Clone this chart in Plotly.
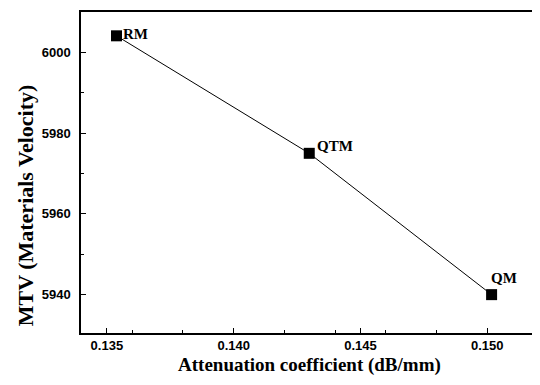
import plotly.graph_objects as go

samples = ["RM", "QTM", "QM"]
attenuation = [0.13538, 0.14298, 0.15017]
velocity = [6004.1, 5975.0, 5940.0]
x_ticks = [0.135, 0.140, 0.145, 0.150]
y_ticks = [5940, 5960, 5980, 6000]

fig = go.Figure()
fig.add_trace(go.Scatter(
    x=attenuation, y=velocity, mode="lines+markers",
    line=dict(color="black", width=1),
    marker=dict(symbol="square", size=11, color="black"),
    showlegend=False,
))

label_pos = {"RM": (19, 2), "QTM": (26, 7), "QM": (12, 17)}
for s, x, y in zip(samples, attenuation, velocity):
    dx, dy = label_pos[s]
    fig.add_annotation(x=x, y=y, text=f"<b>{s}</b>", showarrow=False, xshift=dx, yshift=dy,
                       font=dict(family="Liberation Serif", size=15, color="black"),
                       xanchor="center", yanchor="middle")

tickfont = dict(family="Liberation Sans", size=13, color="black", weight="bold")
axis_common = dict(
    showline=True, linecolor="black", linewidth=1.5, mirror=True,
    ticks="inside", ticklen=5, tickcolor="black", tickwidth=1,
    showgrid=False, zeroline=False,
    tickfont=tickfont,
    minor=dict(ticks="inside", ticklen=3, tickcolor="black", nticks=2),
)

fig.update_xaxes(
    range=[0.13398, 0.15196], tickvals=x_ticks,
    ticktext=[f"{v:.3f}" for v in x_ticks],
    ticklabelstandoff=0,
    **axis_common,
)
fig.update_yaxes(
    range=[5930.5, 6010], tickvals=y_ticks,
    ticktext=[str(v) for v in y_ticks],
    ticklabelstandoff=6,
    **axis_common,
)

# axis titles
fig.add_annotation(xref="paper", yref="paper", x=0.5, y=0, yshift=-44,
                   text="<b>Attenuation coefficient (dB/mm)</b>", showarrow=False,
                   xanchor="center", yanchor="bottom", borderpad=0,
                   font=dict(family="Liberation Serif", size=19, color="black"))
fig.add_annotation(xref="paper", yref="paper", x=0, y=0.398, xshift=-56,
                   text="<b>MTV (Materials Velocity)</b>", showarrow=False, textangle=-90,
                   xanchor="center", yanchor="middle",
                   font=dict(family="Liberation Serif", size=22, color="black"))

fig.update_layout(
    width=532, height=369,
    margin=dict(l=73, r=1, t=4, b=44),
    paper_bgcolor="white", plot_bgcolor="white",
)

fig.write_html("out.html")
